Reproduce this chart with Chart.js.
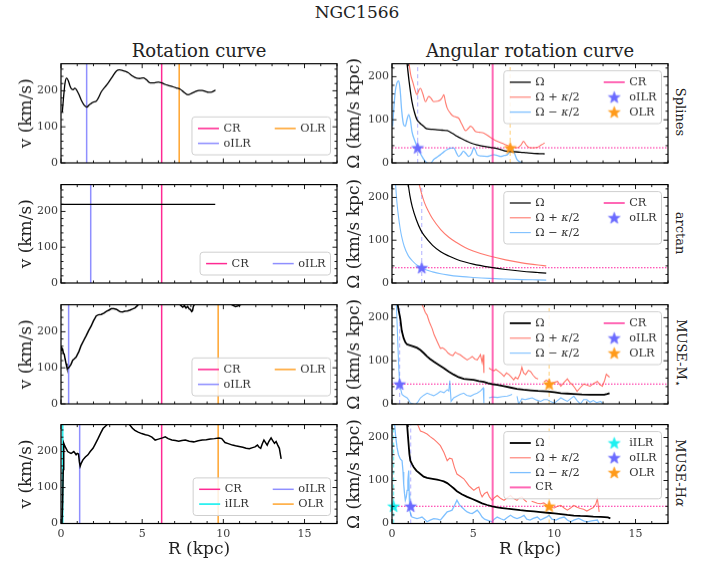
<!DOCTYPE html>
<html>
<head>
<meta charset="utf-8">
<title>NGC1566</title>
<script src="https://cdn.jsdelivr.net/npm/chart.js@4.4.0/dist/chart.umd.min.js"></script>
<style>
  html, body { margin: 0; padding: 0; background: #fff; }
  body { position: relative; width: 713px; height: 569px; overflow: hidden; font-family: 'DejaVu Serif', serif; color: #222; }
  canvas { position: absolute; }
  .lbl { position: absolute; transform: translate(-50%, -50%); white-space: nowrap; line-height: 1; }
  .side { writing-mode: vertical-rl; font-size: 13px; }
  .side sub { font-size: 85%; }
</style>
</head>
<body>
<div class="lbl" style="left:357px;top:12px;font-size:17px">NGC1566</div>
<div class="lbl" style="left:199px;top:51px;font-size:18px">Rotation curve</div>
<div class="lbl" style="left:530px;top:51px;font-size:18px">Angular rotation curve</div>
<div class="lbl side" style="left:680px;top:112px">Splines</div>
<div class="lbl side" style="left:680px;top:233px">arctan</div>
<div class="lbl side" style="left:680px;top:353px">MUSE-M<sub>⋆</sub></div>
<div class="lbl side" style="left:680px;top:473px">MUSE-H<i>α</i></div>

<canvas id="l0"></canvas><canvas id="r0"></canvas>
<canvas id="l1"></canvas><canvas id="r1"></canvas>
<canvas id="l2"></canvas><canvas id="r2"></canvas>
<canvas id="l3"></canvas><canvas id="r3"></canvas>

<script>
const FONT = "'DejaVu Serif', serif";
const R_MAX = 17, V_MAX = 275, OM_MAX = 230;

// ---------- Splines ----------
const splinesV = [[0.08,140],[0.15,178],[0.25,222],[0.35,235],[0.45,228],[0.55,214],[0.65,205],[0.75,203],[0.85,207],[0.95,203],[1.1,190],[1.25,174],[1.4,162],[1.5,157],[1.6,155],[1.72,160],[1.86,165],[2.0,169],[2.17,171],[2.3,180],[2.48,197],[2.7,210],[2.9,221],[3.15,238],[3.42,255],[3.6,258],[3.75,257],[3.95,254],[4.14,250],[4.4,241],[4.66,235],[4.85,234],[5.07,236],[5.25,231],[5.49,222],[5.75,222],[6.0,224],[6.2,222],[6.4,218],[6.6,215],[6.83,212],[7.1,208],[7.35,204],[7.6,195],[7.83,189],[8.05,193],[8.28,198],[8.5,201],[8.7,201],[8.9,198],[9.1,196],[9.3,197],[9.52,202]];
const splinesOm = [[0.93,230],[1.05,190],[1.23,142],[1.4,115],[1.54,100],[1.7,93],[1.85,88],[2.0,83],[2.16,79],[2.5,78],[2.78,77],[3.1,76],[3.4,75],[3.7,69],[4.0,62],[4.3,56],[4.63,50],[4.95,45],[5.25,42],[5.6,39],[6.07,36],[6.5,33],[7.1,27],[7.5,26],[7.9,25],[8.3,23.5],[8.75,22],[9.1,21.5],[9.4,21]];
const splinesOmPlus = [[1.05,230],[1.15,205],[1.3,185],[1.45,165],[1.54,158],[1.65,168],[1.75,173],[1.9,160],[2.06,142],[2.16,148],[2.26,154],[2.4,150],[2.57,142],[2.8,143],[2.98,146],[3.1,152],[3.19,158],[3.3,140],[3.4,127],[3.6,115],[3.8,108],[4.1,104],[4.3,90],[4.53,75],[4.7,80],[4.84,85],[5.0,80],[5.14,73],[5.4,71],[5.66,69],[6.07,59],[6.48,50],[6.9,44],[7.3,38],[7.7,35],[7.95,42],[8.1,50],[8.3,40],[8.5,35],[8.75,35],[8.95,36],[9.2,42],[9.4,46]];
const splinesOmMinus = [[0.04,85],[0.1,120],[0.2,165],[0.3,185],[0.41,190],[0.5,170],[0.6,120],[0.72,88],[0.82,85],[0.92,100],[1.03,112],[1.13,100],[1.23,73],[1.4,52],[1.54,38],[1.7,25],[1.85,15],[2.0,6],[2.16,0],[2.35,-2],[2.57,8],[2.8,14],[2.98,19],[3.2,26],[3.4,31],[3.6,34],[3.8,35],[3.95,25],[4.1,15],[4.25,20],[4.4,27],[4.55,22],[4.73,15],[4.9,22],[5.04,35],[5.15,28],[5.25,19],[5.5,16],[5.86,15],[6.07,17],[6.28,19],[6.5,17],[6.7,15],[6.9,17],[7.1,19],[7.25,26],[7.4,35],[7.55,22],[7.7,8],[7.85,3],[8.0,0],[8.2,-10]];
const splinesRes = { CR: 6.2, oILR: 1.58, OLR: 7.28 };
const splinesOmP = 35;

// ---------- arctan ----------
const arctanV = [[0,220],[2,220],[4,220],[6,220],[8,220],[9.5,220]];
const arctanOm = [[1.0,230],[1.1,205],[1.25,178],[1.5,148],[1.78,123],[2.0,110],[2.5,88],[3.0,73],[3.5,63],[4.0,55],[4.5,49],[5.0,44],[6.0,37],[7.0,31.5],[8.0,27.5],[9.0,24.5],[9.5,23]];
const arctanOmPlus = [[1.68,230],[1.8,212],[2.0,188],[2.25,167],[2.5,150],[3.0,125],[3.5,107],[4.0,94],[4.5,83],[5.0,75],[6.0,63],[7.0,54],[8.0,47],[9.0,42],[9.5,40]];
const arctanOmMinus = [[0.22,230],[0.3,190],[0.4,155],[0.5,128],[0.6,108],[0.75,86],[1.0,64],[1.25,52],[1.5,43],[1.83,35.5],[2.0,32],[2.5,26],[3.0,21.5],[3.5,18.5],[4.0,16],[5.0,13],[6.0,10.7],[7.0,9.2],[8.0,8],[9.0,7.2],[9.5,6.8]];
const arctanRes = { CR: 6.2, oILR: 1.83 };
const arctanOmP = 35.5;

// ---------- MUSE stellar mass ----------
const mstarV = [[0.0,148],[0.05,155],[0.1,152],[0.15,140],[0.2,138],[0.25,125],[0.31,112],[0.36,102],[0.41,98],[0.47,100],[0.52,103],[0.62,110],[0.72,121],[0.82,125],[0.93,130],[1.1,145],[1.24,162],[1.4,176],[1.55,189],[1.7,203],[1.86,216],[2.0,230],[2.17,244],[2.3,247],[2.48,248],[2.65,252],[2.8,257],[2.95,260],[3.1,264],[3.25,264],[3.42,262],[3.55,258],[3.65,256],[3.8,255],[3.93,257],[4.1,258],[4.24,260],[4.4,263],[4.55,266],[4.7,272],[4.85,280],[5.2,288],[5.8,292],[6.5,290],[7.0,285],[7.25,278],[7.4,272],[7.5,268],[7.6,272],[7.7,266],[7.8,270],[7.9,263],[7.97,262],[8.05,256],[8.1,258],[8.15,270],[8.3,282],[8.8,290],[9.5,288],[10.0,284],[10.4,278],[10.6,273],[10.75,270],[10.9,272],[11.1,276],[11.5,284],[12.2,290],[13.0,292],[13.4,292]];
const mstarOm = [[0.35,230],[0.42,215],[0.51,198],[0.6,170],[0.72,152],[0.82,143],[0.93,138],[1.1,136],[1.34,133],[1.55,130],[1.75,125],[1.95,118],[2.16,110],[2.35,104],[2.57,98],[2.9,90],[3.19,83],[3.5,75],[3.8,68],[4.1,62],[4.42,58],[4.7,57],[5.04,56],[5.35,53],[5.66,51],[5.9,48],[6.17,46],[6.5,44],[6.9,41],[7.3,38],[7.7,35],[8.1,33],[8.54,31.5],[9.0,30],[9.57,29],[10.0,27],[10.4,25],[10.8,24],[11.2,23],[11.7,22],[12.2,21.5],[12.6,21.5],[13.07,21.5],[13.25,23],[13.4,25]];
const mstarOmPlus = [[1.85,230],[1.95,222],[2.05,212],[2.16,206],[2.3,190],[2.47,175],[2.6,160],[2.78,145],[2.9,135],[2.98,129],[3.1,130],[3.2,128],[3.3,125],[3.45,118],[3.6,114],[3.75,112],[3.9,120],[4.05,116],[4.2,114],[4.4,108],[4.63,102],[4.8,106],[4.94,110],[5.1,104],[5.25,102],[5.35,108],[5.45,114],[5.55,96],[5.62,114],[5.66,72],[5.8,null],[5.97,83],[6.1,80],[6.28,77],[6.4,80],[6.58,75],[6.75,70],[6.9,64],[7.05,72],[7.2,68],[7.35,62],[7.5,56],[7.6,62],[7.75,58],[7.9,70],[8.0,85],[8.1,72],[8.23,68],[8.4,78],[8.54,75],[8.7,66],[8.85,60],[9.0,58],[9.2,null],[9.36,51],[9.5,55],[9.77,48],[10.0,50],[10.2,52],[10.4,41],[10.6,50],[10.8,58],[10.95,50],[11.1,45],[11.25,38],[11.4,29],[11.6,38],[11.8,46],[12.0,44],[12.2,41],[12.4,47],[12.65,52],[12.8,45],[12.96,41],[13.1,55],[13.2,69],[13.4,62]];
const mstarOmMinus = [[0.27,230],[0.35,150],[0.42,80],[0.47,46],[0.55,32],[0.62,22],[0.75,18],[0.93,14],[1.05,8],[1.13,2],[1.3,0],[1.44,-2],[1.6,5],[1.75,14],[1.95,20],[2.16,25],[2.35,22],[2.57,19],[2.8,24],[2.98,29],[3.2,26],[3.4,33],[3.5,30],[3.56,54],[3.64,6],[3.8,14],[4.0,18],[4.2,22],[4.42,25],[4.6,20],[4.84,18],[5.05,22],[5.25,25],[5.45,30],[5.62,37],[5.66,2],[5.8,null],[5.97,14],[6.2,16],[6.5,15],[6.8,17],[7.1,18],[7.25,20],[7.4,22],[7.55,null],[7.7,18],[7.8,0],[8.0,12],[8.2,10],[8.4,12],[8.64,14],[8.9,9],[9.16,6],[9.35,10],[9.57,10],[9.8,5],[10.0,2],[10.2,8],[10.4,14],[10.6,10],[10.8,6],[11.0,12],[11.2,18],[11.4,8],[11.6,0],[11.8,10],[12.0,10],[12.2,4],[12.4,8],[12.6,3],[12.86,6],[13.0,-2]];
const mstarRes = { CR: 6.2, oILR: 0.47, OLR: 9.68 };
const mstarOmP = 46;

// ---------- MUSE H-alpha ----------
const halphaV = [[0.06,0],[0.1,60],[0.14,150],[0.17,223],[0.24,215],[0.31,209],[0.41,200],[0.52,197],[0.62,195],[0.7,197],[0.79,200],[0.86,196],[0.93,191],[1.0,195],[1.08,193],[1.13,172],[1.18,159],[1.25,168],[1.35,177],[1.5,185],[1.66,191],[1.8,200],[1.97,209],[2.1,220],[2.28,236],[2.45,252],[2.59,264],[2.8,273],[3.0,282],[3.5,290],[4.0,285],[4.24,274],[4.4,265],[4.55,259],[4.75,254],[4.97,250],[5.2,247],[5.38,245],[5.6,240],[5.8,232],[5.95,234],[6.1,236],[6.25,238],[6.42,241],[6.6,236],[6.83,232],[7.05,231],[7.25,229],[7.45,231],[7.66,232],[7.9,229],[8.18,227],[8.45,230],[8.7,232],[8.95,233],[9.2,235],[9.45,236],[9.73,238],[9.9,236],[10.1,225],[10.3,222],[10.56,218],[10.75,216],[10.97,214],[11.2,212],[11.4,209],[11.6,208],[11.8,211],[11.95,213],[12.1,218],[12.2,212],[12.3,209],[12.4,222],[12.5,232],[12.6,225],[12.7,218],[12.8,228],[12.94,238],[13.05,230],[13.15,223],[13.25,228],[13.35,218],[13.45,209],[13.56,180]];
const halphaOm = [[0.93,230],[1.0,195],[1.07,162],[1.13,146],[1.25,137],[1.34,131],[1.5,123],[1.75,115],[1.95,109],[2.16,106],[2.5,104],[2.78,102],[3.0,100],[3.19,98],[3.4,94],[3.6,88],[3.8,82],[4.0,75],[4.3,68],[4.63,62],[4.95,57],[5.25,52],[5.55,47],[5.86,43],[6.17,40],[6.48,37.5],[6.8,36],[7.1,34.5],[7.5,33],[7.9,31],[8.3,29.5],[8.74,28],[9.15,26.5],[9.57,25],[10.0,23.5],[10.4,22],[10.8,20],[11.2,18.5],[11.6,17.5],[12.0,17],[12.4,16],[12.86,15.4],[13.1,15],[13.3,14],[13.45,12]];
const halphaOmPlus = [[1.58,230],[1.75,215],[1.95,212],[2.16,208],[2.35,202],[2.57,196],[2.8,188],[2.98,181],[3.2,165],[3.4,146],[3.55,152],[3.7,150],[3.85,130],[4.0,115],[4.2,110],[4.42,104],[4.6,95],[4.73,88],[4.9,82],[5.04,77],[5.2,82],[5.35,85],[5.45,70],[5.55,62],[5.7,70],[5.86,73],[6.0,62],[6.17,54],[6.3,60],[6.48,65],[6.7,58],[6.9,54],[7.1,60],[7.3,65],[7.5,58],[7.7,54],[7.85,60],[8.0,62],[8.15,55],[8.3,50],[8.4,null],[8.6,52],[8.74,50],[8.95,47],[9.16,46],[9.35,48],[9.57,42],[9.8,38],[10.0,36],[10.2,40],[10.4,42],[10.6,36],[10.8,31],[11.0,36],[11.2,42],[11.4,38],[11.6,35],[11.8,33],[12.0,29],[12.2,33],[12.4,37],[12.55,45],[12.65,58],[12.76,27]];
const halphaOmMinus = [[0.03,230],[0.08,240],[0.15,235],[0.22,205],[0.31,177],[0.4,160],[0.51,150],[0.62,146],[0.68,120],[0.72,92],[0.77,70],[0.82,54],[0.88,62],[0.93,77],[0.98,100],[1.03,123],[1.06,70],[1.09,31],[1.15,22],[1.23,15],[1.4,13],[1.54,11.5],[1.7,13],[1.85,15],[2.0,10],[2.16,4],[2.35,8],[2.57,11.5],[2.8,10],[2.98,8],[3.2,18],[3.4,27],[3.55,29],[3.7,31],[3.85,42],[4.0,54],[4.15,44],[4.32,37],[4.5,31],[4.63,27],[4.8,24],[4.94,23],[5.1,27],[5.25,31],[5.4,24],[5.55,15],[5.7,10],[5.86,8],[6.0,6],[6.17,4],[6.3,10],[6.48,15],[6.7,11],[6.9,8],[7.1,14],[7.3,19],[7.5,14],[7.7,11.5],[7.9,14],[8.13,19],[8.3,10],[8.5,8],[8.7,12],[8.95,15],[9.15,8],[9.35,12],[9.57,16],[9.67,19],[9.85,10],[10.1,8],[10.3,12],[10.6,15],[10.8,8],[11.0,4],[11.2,8],[11.5,12],[11.8,6],[12.0,4],[12.3,6],[12.65,8],[12.76,0]];
const halphaRes = { CR: 6.2, iILR: 0.1, oILR: 1.15, OLR: 9.68 };
const halphaOmP = 40;

// colours
const COL = {
  cr: '#ff2a93', oilr: '#8f8fff', olr: '#ffa42e', iilr: '#2ff0f0',
  crR: 'rgba(255,40,150,0.7)', oilrDash: 'rgba(110,110,255,0.45)', olrDash: 'rgba(255,165,0,0.45)', iilrDash: 'rgba(0,230,230,0.5)',
  omP: '#ff22a0', plus: 'rgba(255,75,60,0.75)', minus: 'rgba(40,150,255,0.6)',
  starO: '#6a6aff', starOLR: '#ff9a1a', starI: '#1ef0f0'
};

function starImg(color, r) {
  const c = document.createElement('canvas');
  const s = Math.ceil(r * 2 + 2);
  c.width = c.height = s;
  const g = c.getContext('2d');
  g.translate(s / 2, s / 2 + 0.5);
  g.beginPath();
  for (let i = 0; i < 10; i++) {
    const rad = i % 2 ? r * 0.42 : r;
    const a = -Math.PI / 2 + i * Math.PI / 5;
    g.lineTo(rad * Math.cos(a), rad * Math.sin(a));
  }
  g.closePath();
  g.fillStyle = color; g.fill();
  g.lineWidth = 0.6; g.strokeStyle = color; g.stroke();
  return c;
}

function curve(label, pts, color, width, smooth) {
  return {
    label, data: pts.map(p => ({ x: p[0], y: p[1] })),
    borderColor: color, borderWidth: width, pointRadius: 0, pointHitRadius: 0,
    fill: false, spanGaps: false,
    tension: smooth ? 0.4 : 0, cubicInterpolationMode: smooth ? 'monotone' : 'default'
  };
}
function vline(label, r, top, color, width, dash) {
  const d = curve(label, [[r, 0], [r, top]], color, width, false);
  d.borderDash = dash || [];
  return d;
}
function hline(y, color) {
  const d = curve('Ωp', [[0, y], [R_MAX, y]], color, 1.1, false);
  d.borderDash = [1.5, 1.5];
  return d;
}
function star(label, r, y, color) {
  return { label, data: [{ x: r, y }], showLine: false, pointStyle: starImg(color, 6.2), pointRadius: 6, clip: false };
}

// inward ticks on all four sides, frame and a matplotlib-like legend
function drawRich(ctx, text, x, y, size) {
  const parts = text.split(/(κ)/);
  for (const t of parts) {
    if (!t) continue;
    ctx.font = (t === 'κ' ? 'italic ' : '') + size + 'px ' + FONT;
    ctx.fillText(t, x, y);
    x += ctx.measureText(t).width;
  }
}
function richWidth(ctx, text, size) {
  let w = 0;
  for (const t of text.split(/(κ)/)) {
    if (!t) continue;
    ctx.font = (t === 'κ' ? 'italic ' : '') + size + 'px ' + FONT;
    w += ctx.measureText(t).width;
  }
  return w;
}
function drawLegend(chart, lg) {
  const { ctx, chartArea: a } = chart;
  const fs = 11.3, padL = 6, hw = 21, gap = 4.5, colSp = 24, padR = 5, rowH = 14.8, padV = 4;
  const colW = lg.cols.map(col => Math.max(...col.map(t => richWidth(ctx, t, fs))));
  const nrows = Math.max(...lg.cols.map(c => c.length));
  const w = padL + colW.reduce((s, cw) => s + hw + gap + cw, 0) + colSp * (lg.cols.length - 1) + padR;
  const h = 2 * padV + nrows * rowH;
  const x0 = a.right - 6.5 - w;
  const y0 = lg.loc === 'ur' ? a.top + 7 : a.bottom - 8 - h;
  ctx.save();
  ctx.beginPath();
  ctx.roundRect(x0, y0, w, h, 3);
  ctx.fillStyle = 'rgba(255,255,255,0.85)';
  ctx.fill();
  ctx.strokeStyle = '#cfcfcf'; ctx.lineWidth = 1; ctx.stroke();
  let cx = x0 + padL;
  lg.cols.forEach((col, ci) => {
    col.forEach((name, ri) => {
      const ds = chart.data.datasets.find(d => d.label === name);
      const yy = y0 + padV + rowH * (ri + 0.5);
      if (ds.showLine === false) {
        const img = ds.pointStyle;
        ctx.drawImage(img, cx + hw / 2 - img.width / 2, yy - img.height / 2);
      } else {
        ctx.beginPath();
        ctx.setLineDash([]);
        ctx.strokeStyle = ds.borderColor; ctx.lineWidth = ds.borderWidth;
        ctx.moveTo(cx, yy); ctx.lineTo(cx + hw, yy); ctx.stroke();
      }
      ctx.fillStyle = '#333'; ctx.textBaseline = 'middle'; ctx.textAlign = 'left';
      drawRich(ctx, name, cx + hw + gap, yy, fs);
    });
    cx += hw + gap + colW[ci] + colSp;
  });
  ctx.restore();
}
const frame = {
  id: 'frame',
  afterDraw(chart, args, opts) {
    const { ctx, chartArea: a } = chart;
    const x = chart.scales.x, y = chart.scales.y;
    ctx.save();
    ctx.strokeStyle = '#000';
    ctx.lineWidth = 0.9;
    ctx.beginPath();
    for (let v = 0; v <= R_MAX; v++) {
      const px = x.getPixelForValue(v);
      const len = v % 5 === 0 ? 4.5 : 2.5;
      ctx.moveTo(px, a.bottom); ctx.lineTo(px, a.bottom - len);
      ctx.moveTo(px, a.top); ctx.lineTo(px, a.top + len);
    }
    for (let v = 0; v <= y.max; v += 20) {
      const py = y.getPixelForValue(v);
      const len = v % 100 === 0 ? 4.5 : 2.5;
      ctx.moveTo(a.left, py); ctx.lineTo(a.left + len, py);
      ctx.moveTo(a.right, py); ctx.lineTo(a.right - len, py);
    }
    ctx.stroke();
    ctx.lineWidth = 1.2;
    ctx.strokeRect(a.left, a.top, a.width, a.height);
    ctx.restore();
    if (opts.legend) drawLegend(chart, opts.legend);
  }
};

const ROW_TOP = [62, 182.5, 303, 423];
const PLOT_H = 100.5;

function makePanel(id, side, row, datasets, legend) {
  const cv = document.getElementById(id);
  const left = side === 'L';
  const bottom = row === 3;
  const yw = left ? 61 : 52;
  const W = yw + 276 + 8;
  const top = ROW_TOP[row] - 8;
  const H = bottom ? 569 - top : 8 + PLOT_H + 10;
  const xh = H - 8 - PLOT_H;
  cv.style.left = (left ? 0 : 340) + 'px';
  cv.style.top = top + 'px';
  cv.width = W; cv.height = H;
  cv.style.width = W + 'px'; cv.style.height = H + 'px';
  const tickFont = { family: FONT, size: 11 };
  const titleFont = { family: FONT, size: 17 };
  new Chart(cv, {
    type: 'line',
    data: { datasets },
    options: {
      responsive: false, animation: false, devicePixelRatio: 1,
      layout: { padding: { top: 8, right: 8, bottom: 0, left: 0 }, autoPadding: false },
      plugins: { legend: { display: false }, tooltip: { enabled: false }, frame: { legend } },
      scales: {
        x: {
          type: 'linear', min: 0, max: R_MAX,
          grid: { display: false, drawTicks: false }, border: { display: false },
          ticks: { display: bottom, stepSize: 5, includeBounds: false, color: '#3a3a3a', font: tickFont, padding: 4, maxRotation: 0 },
          title: { display: bottom, text: 'R (kpc)', color: '#222', font: titleFont, padding: { top: 0, bottom: 9 } },
          afterFit: s => { s.height = xh; }
        },
        y: {
          type: 'linear', min: 0, max: left ? V_MAX : OM_MAX,
          grid: { display: false, drawTicks: false }, border: { display: false },
          ticks: { stepSize: 100, includeBounds: false, color: '#3a3a3a', font: tickFont, padding: 3 },
          title: { display: true, text: left ? 'v (km/s)' : 'Ω (km/s kpc)', color: '#222', font: titleFont, padding: { top: left ? 16.8 : 4.8, bottom: 0 } },
          afterFit: s => { s.width = yw; }
        }
      }
    },
    plugins: [frame]
  });
}

// rotation curves
makePanel('l0', 'L', 0, [
  curve('v', splinesV, '#000', 1.3, true),
  vline('CR', splinesRes.CR, V_MAX, COL.cr, 1.5),
  vline('oILR', splinesRes.oILR, V_MAX, COL.oilr, 1.5),
  vline('OLR', splinesRes.OLR, V_MAX, COL.olr, 1.5)
], { loc: 'lr', cols: [['CR', 'oILR'], ['OLR']] });

makePanel('l1', 'L', 1, [
  curve('v', arctanV, '#000', 1.2, false),
  vline('CR', arctanRes.CR, V_MAX, COL.cr, 1.5),
  vline('oILR', arctanRes.oILR, V_MAX, COL.oilr, 1.5)
], { loc: 'lr', cols: [['CR'], ['oILR']] });

makePanel('l2', 'L', 2, [
  curve('v', mstarV, '#000', 1.5, false),
  vline('CR', mstarRes.CR, V_MAX, COL.cr, 1.5),
  vline('oILR', mstarRes.oILR, V_MAX, COL.oilr, 1.5),
  vline('OLR', mstarRes.OLR, V_MAX, COL.olr, 1.5)
], { loc: 'lr', cols: [['CR', 'oILR'], ['OLR']] });

makePanel('l3', 'L', 3, [
  curve('v', halphaV, '#000', 1.5, false),
  vline('CR', halphaRes.CR, V_MAX, COL.cr, 1.5),
  vline('iILR', halphaRes.iILR, V_MAX, COL.iilr, 1.8),
  vline('oILR', halphaRes.oILR, V_MAX, COL.oilr, 1.5),
  vline('OLR', halphaRes.OLR, V_MAX, COL.olr, 1.5)
], { loc: 'lr', cols: [['CR', 'iILR'], ['oILR', 'OLR']] });

// angular rotation curves
makePanel('r0', 'R', 0, [
  star('oILR', splinesRes.oILR, splinesOmP, COL.starO),
  star('OLR', splinesRes.OLR, splinesOmP, COL.starOLR),
  curve('Ω', splinesOm, '#000', 1.3, true),
  vline('CR', splinesRes.CR, OM_MAX, COL.crR, 2),
  curve('Ω + κ/2', splinesOmPlus, COL.plus, 1.1, true),
  curve('Ω − κ/2', splinesOmMinus, COL.minus, 1.3, true),
  vline('oILRd', splinesRes.oILR, OM_MAX, COL.oilrDash, 1.2, [4, 3]),
  vline('OLRd', splinesRes.OLR, OM_MAX, COL.olrDash, 1.2, [4, 3]),
  hline(splinesOmP, COL.omP)
], { loc: 'ur', cols: [['Ω', 'Ω + κ/2', 'Ω − κ/2'], ['CR', 'oILR', 'OLR']] });

makePanel('r1', 'R', 1, [
  star('oILR', arctanRes.oILR, arctanOmP, COL.starO),
  curve('Ω', arctanOm, '#000', 1.2, true),
  vline('CR', arctanRes.CR, OM_MAX, COL.crR, 2),
  curve('Ω + κ/2', arctanOmPlus, COL.plus, 1.1, true),
  curve('Ω − κ/2', arctanOmMinus, COL.minus, 1.1, true),
  vline('oILRd', arctanRes.oILR, OM_MAX, COL.oilrDash, 1.2, [4, 3]),
  hline(arctanOmP, COL.omP)
], { loc: 'ur', cols: [['Ω', 'Ω + κ/2', 'Ω − κ/2'], ['CR', 'oILR']] });

makePanel('r2', 'R', 2, [
  star('oILR', mstarRes.oILR, mstarOmP, COL.starO),
  star('OLR', mstarRes.OLR, mstarOmP, COL.starOLR),
  curve('Ω', mstarOm, '#000', 1.8, false),
  vline('CR', mstarRes.CR, OM_MAX, COL.crR, 2),
  curve('Ω + κ/2', mstarOmPlus, COL.plus, 1.1, false),
  curve('Ω − κ/2', mstarOmMinus, COL.minus, 1.1, false),
  vline('oILRd', mstarRes.oILR, OM_MAX, COL.oilrDash, 1.2, [4, 3]),
  vline('OLRd', mstarRes.OLR, OM_MAX, COL.olrDash, 1.2, [4, 3]),
  hline(mstarOmP, COL.omP)
], { loc: 'ur', cols: [['Ω', 'Ω + κ/2', 'Ω − κ/2'], ['CR', 'oILR', 'OLR']] });

makePanel('r3', 'R', 3, [
  star('iILR', halphaRes.iILR, halphaOmP, COL.starI),
  star('oILR', halphaRes.oILR, halphaOmP, COL.starO),
  star('OLR', halphaRes.OLR, halphaOmP, COL.starOLR),
  curve('Ω', halphaOm, '#000', 1.8, false),
  vline('CR', halphaRes.CR, OM_MAX, COL.crR, 2),
  curve('Ω + κ/2', halphaOmPlus, COL.plus, 1.1, false),
  curve('Ω − κ/2', halphaOmMinus, COL.minus, 1.3, false),
  vline('iILRd', halphaRes.iILR, OM_MAX, COL.iilrDash, 1.2, [4, 3]),
  vline('oILRd', halphaRes.oILR, OM_MAX, COL.oilrDash, 1.2, [4, 3]),
  vline('OLRd', halphaRes.OLR, OM_MAX, COL.olrDash, 1.2, [4, 3]),
  hline(halphaOmP, COL.omP)
], { loc: 'ur', cols: [['Ω', 'Ω + κ/2', 'Ω − κ/2', 'CR'], ['iILR', 'oILR', 'OLR']] });
</script>
</body>
</html>
